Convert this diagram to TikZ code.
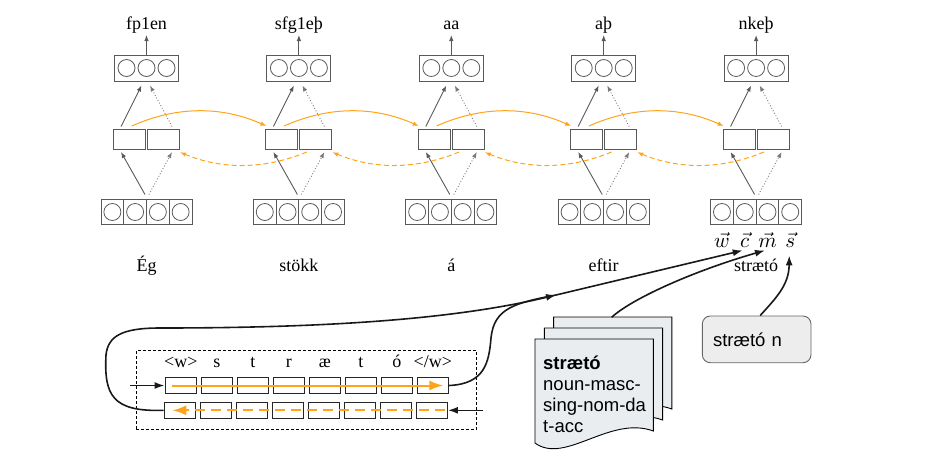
\documentclass[tikz,border=0pt]{standalone}
\usepackage{graphicx}
\usepackage{fontspec}
\setmainfont{Liberation Serif}
\newfontfamily\sansf{Liberation Sans}
\usetikzlibrary{arrows.meta,calc}
\definecolor{gline}{HTML}{595959}
\definecolor{gdot}{HTML}{7A7A7A}
\definecolor{orng}{HTML}{FFA31A}
\definecolor{docfill}{HTML}{E9EDF0}
\definecolor{boxfill}{HTML}{EDEDED}
\newcommand{\bigvec}[1]{\scalebox{2.1}{$\vec{#1}$}}
\begin{document}
\begin{tikzpicture}[x=1pt,y=-1pt,
  topbox/.style={draw=gline,line width=1pt,minimum width=64pt,minimum height=26pt,inner sep=0pt},
  circ/.style={draw=gline,circle,line width=0.8pt,minimum size=17pt,inner sep=0pt},
  bcell/.style={draw=gline,line width=1pt,minimum width=22.75pt,minimum height=25pt,inner sep=0pt},
  mcell/.style={draw=gline,line width=1pt,minimum width=32pt,minimum height=20pt,inner sep=0pt},
  lab/.style={inner sep=0pt,font=\fontsize{18}{20}\selectfont},
  vlab/.style={inner sep=0pt,anchor=north},
  garr/.style={draw=gline,line width=0.9pt,-{Latex[length=6pt,width=4.5pt]}},
  gdarr/.style={draw=gdot,line width=0.9pt,dotted,-{Latex[length=6pt,width=4.5pt]}},
  oarr/.style={draw=orng,line width=1pt,-{Latex[length=6pt,width=4.5pt]}},
  odarr/.style={draw=orng,line width=1pt,dash pattern=on 5pt off 3pt,-{Latex[length=6pt,width=4.5pt]}},
  ccell/.style={draw=black!85,line width=0.9pt,minimum width=31.5pt,minimum height=16pt,inner sep=0pt},
  othick/.style={draw=orng,line width=2pt,-{Latex[length=14pt,width=10pt]}},
  odthick/.style={draw=orng,line width=2pt,dash pattern=on 10pt off 6pt,-{Latex[length=14pt,width=10pt]}},
  barr/.style={draw=black!90,line width=1.6pt,-{Latex[length=10pt,width=7pt]}},
  bline/.style={draw=black!90,line width=1.6pt},
  frame/.style={draw=black,line width=0.8pt,dash pattern=on 3pt off 2pt,minimum width=340.7pt,minimum height=78.3pt,inner sep=0pt},
  docpage/.style={draw=black,line width=0.9pt,fill=docfill},
  doctext/.style={inner sep=0pt,anchor=base west,font=\sansf\fontsize{18.5}{21}\selectfont},
  sbox/.style={draw=gray!80!black,line width=0.9pt,fill=boxfill,rounded corners=8pt,minimum width=108.7pt,minimum height=46.7pt,text width=87.3pt,inner xsep=10.7pt,align=left,font=\sansf\fontsize{18.5}{21}\selectfont}
]
\useasboundingbox (0,0) rectangle (941,472);

% ---------- columns ----------
\foreach \i/\cx/\toplab/\wrd in {1/146.5/fp1en/Ég, 2/298.9/sfg1eþ/stökk, 3/451.3/aa/á, 4/603.7/aþ/eftir, 5/756.1/nkeþ/strætó}{
  \node[topbox] (t\i) at (\cx,68) {};
  \foreach \k in {0,1,2}{
    \node[circ] (tc\i-\k) at ({\cx-20+20*\k},68) {};
  }
  \node[lab,anchor=base] (o\i) at (\cx,29) {\toplab};
  \draw[garr] (t\i.north) -- ($(o\i.base)+(0,6)$);
  \node[mcell] (ml\i) at ({\cx-17},139) {};
  \node[mcell] (mr\i) at ({\cx+17},139) {};
  \foreach \k in {0,1,2,3}{
    \node[bcell] (b\i-\k) at ({\cx-34.125+22.75*\k},212) {};
    \node[circ] (bc\i-\k) at (b\i-\k) {};
  }
  \node[lab,anchor=base] (w\i) at (\cx,271) {\wrd};
  \draw[garr] ($(b\i-1.north east)+(-2,-4.5)$) -- ($(ml\i.south)+(-8.5,2.5)$);
  \draw[gdarr] ($(b\i-1.north east)+(2,-4.5)$) -- ($(mr\i.south)+(8.5,2.5)$);
  \draw[garr] ($(ml\i.north)+(-8.5,-2)$) -- ($(t\i.south)+(-5,4)$);
  \draw[gdarr] ($(mr\i.north)+(8.5,-2)$) -- ($(t\i.south)+(3.5,4)$);
}

% ---------- recurrent connections ----------
\foreach \i/\j in {1/2,2/3,3/4,4/5}{
  \draw[oarr] ($(ml\i.north)+(2.2,-2.5)$) .. controls +(45,-20) and +(-45,-20) .. ($(ml\j.north west)+(1,-2.5)$);
  \draw[odarr] ($(mr\j.south)+(-9.2,2.5)$) .. controls +(-42,17.5) and +(42,17.5) .. ($(mr\i.south east)+(0,2.7)$);
}

% ---------- vector labels ----------
\node[vlab] (vw) at ($(b5-0.south)+(0,7)$) {\bigvec{w}};
\node[vlab] (vc) at ($(b5-1.south)+(0,7)$) {\bigvec{c}};
\node[vlab] (vm) at ($(b5-2.south)+(0,7)$) {\bigvec{m}};
\node[vlab] (vs) at ($(b5-3.south)+(0,7)$) {\bigvec{s}};
\coordinate (ctip) at ($(vc.south)+(-2,3)$);
\coordinate (mtip) at ($(vm.south)+(-2.5,3)$);
\coordinate (stip) at ($(vs.south)+(-1,8)$);

% ---------- character BiLSTM ----------
\node[frame] (fr) at (306.35,389.85) {};
\foreach \k/\chr in {0/{\textless w\textgreater}, 1/s, 2/t, 3/r, 4/æ, 5/t, 6/ó, 7/{\textless/w\textgreater}}{
  \node[lab,anchor=base] (ch\k) at ({180.75+36*\k},367) {\chr};
  \node[ccell] (u\k) at ({180.75+36*\k},385.5) {};
  \node[ccell] (l\k) at ({179.75+36*\k},410.3) {};
}
\draw[othick] ($(u0.west)+(7,0)$) -- ($(u7.east)+(-5.5,0)$);
\draw[odthick] ($(l7.east)+(-2.5,0)$) -- ($(l0.west)+(8.7,0)$);
\coordinate (inL) at (130,385.5);
\coordinate (inR) at (483.3,410.3);
\draw[barr] (inL) -- (u0.west);
\draw[barr] (inR) -- (l7.east);

\coordinate (merge) at (556,295);
\draw[barr] (l0.west) .. controls (112,412) and (104,395) .. (106,355)
   .. controls (108,336) and (122,328) .. (160,328)
   .. controls (330,328) and (456,319) .. (merge);
\draw[bline] (u7.east) .. controls (485,384) and (489,362) .. (491,338)
   .. controls (494,308) and (515,303) .. (merge);
\draw[barr] (merge) -- (ctip);

% ---------- morphological lexicon ----------
\foreach \dx/\dy in {18.6/-22, 9.3/-11, 0/0}{
  \draw[docpage,shift={(\dx,\dy)}] (535,339) -- (653.3,339) -- (653.3,431)
     .. controls (610,415) and (565,465) .. (535,443) -- cycle;
}
\node[doctext] (d1) at (543,369.5) {\bfseries strætó};
\node[doctext] (d2) at (543,390.5) {noun-masc-};
\node[doctext] (d3) at (543,411.5) {sing-nom-da};
\node[doctext] (d4) at (543,432.5) {t-acc};
\coordinate (doctop) at (611.7,317.3);
\draw[barr] (doctop) .. controls (630,300) and (690,272) .. (mtip);

% ---------- word class ----------
\node[sbox] (sb) at (756.65,339.35) {strætó n};
\draw[barr] ($(sb.north)+(3.5,0)$) .. controls (776,298) and (789,285) .. (stip);
\end{tikzpicture}
\end{document}
